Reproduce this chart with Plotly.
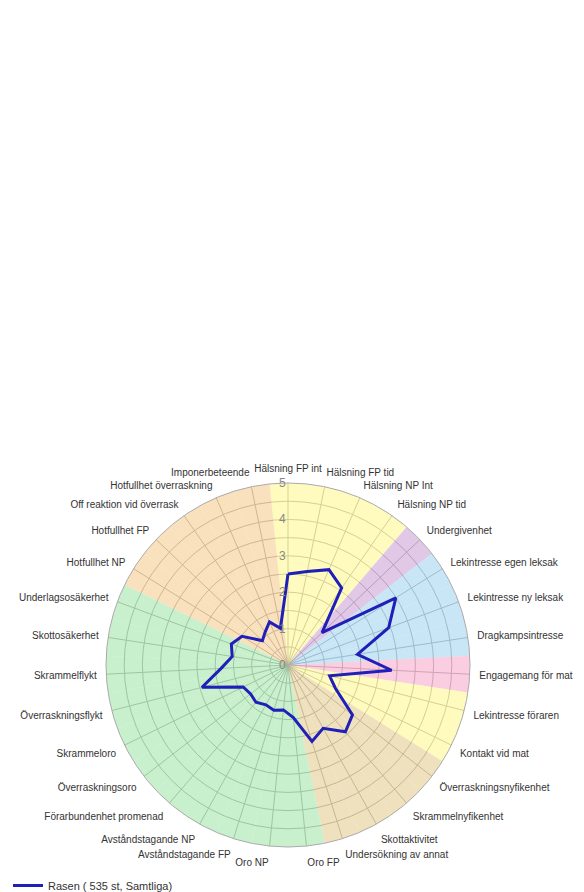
import plotly.graph_objects as go

# Kategorier medurs från toppen
categories = ['Hälsning FP int', 'Hälsning FP tid', 'Hälsning NP Int', 'Hälsning NP tid',
              'Undergivenhet', 'Lekintresse egen leksak', 'Lekintresse ny leksak',
              'Dragkampsintresse', 'Engagemang för mat', 'Lekintresse föraren',
              'Kontakt vid mat', 'Överraskningsnyfikenhet', 'Skrammelnyfikenhet',
              'Skottaktivitet', 'Undersökning av annat', 'Oro FP', 'Oro NP',
              'Avståndstagande FP', 'Avståndstagande NP', 'Förarbundenhet promenad',
              'Överraskningsoro', 'Skrammeloro', 'Överraskningsflykt', 'Skrammelflykt',
              'Skottosäkerhet', 'Underlagsosäkerhet', 'Hotfullhet NP', 'Hotfullhet FP',
              'Off reaktion vid överrask', 'Hotfullhet överraskning', 'Imponerbeteende']

rasen = [2.5, 2.62, 2.85, 2.58, 1.29, 3.49, 2.95, 1.93, 2.85, 1.18,
         1.45, 2.24, 2.42, 1.99, 2.2, 1.45, 1.24, 1.3, 1.25, 1.35,
         1.3, 1.37, 2.44, 1.84, 1.55, 1.66, 1.49, 0.97, 1.1, 1.29, 1.03]

# Bakgrundsgrupp per kategori
groups = ['halsning'] * 4 + ['undergivenhet'] + ['lek'] * 3 + ['mat'] + ['kontakt'] * 2 \
         + ['nyfikenhet'] * 4 + ['oro'] * 11 + ['hot'] * 5

group_colors = {
    'halsning': 'rgba(255,247,147,0.6)',
    'undergivenhet': 'rgba(205,163,213,0.6)',
    'lek': 'rgba(163,213,238,0.6)',
    'mat': 'rgba(247,172,205,0.6)',
    'kontakt': 'rgba(255,247,147,0.6)',
    'nyfikenhet': 'rgba(230,205,147,0.6)',
    'oro': 'rgba(163,230,172,0.6)',
    'hot': 'rgba(247,205,147,0.6)',
}

radial_vals = [i * 0.5 for i in range(11)]
radial_text = [str(int(v)) if v == int(v) else '' for v in radial_vals]

fig = go.Figure()

fig.add_trace(go.Barpolar(
    r=[5] * len(categories), theta=categories, width=[1] * len(categories),
    marker=dict(color=[group_colors[g] for g in groups], line=dict(width=0)),
    showlegend=False, hoverinfo='skip'))

fig.add_trace(go.Scatterpolar(
    r=rasen + rasen[:1], theta=categories + categories[:1], mode='lines',
    line=dict(color='#2020B8', width=3), name='Rasen ( 535 st, Samtliga)'))

# sidan har 8px body-marginal -> figuren förskjuts 8px
W, H = 576, 892
fig.update_layout(
    width=W, height=H,
    margin=dict(l=0, r=0, t=0, b=0),
    paper_bgcolor='white',
    font=dict(family='Liberation Sans, Arial', color='#333'),
    polar=dict(
        domain=dict(x=[98 / W, 462 / W], y=[53 / H, 417 / H]),
        bgcolor='white',
        bargap=0,
        angularaxis=dict(direction='clockwise', rotation=90,
                         ticks='outside', ticklen=7, tickcolor='rgba(0,0,0,0)',
                         tickfont=dict(size=10, color='#333'),
                         gridcolor='#959595', gridwidth=1,
                         linecolor='#aaaaaa', linewidth=1),
        radialaxis=dict(range=[0, 5], angle=90, tickangle=90, side='counterclockwise',
                        tickvals=radial_vals, ticktext=radial_text, ticks='',
                        tickfont=dict(size=12, color='#888'),
                        gridcolor='#959595', gridwidth=1, showline=False),
    ),
    showlegend=True,
    legend=dict(x=0.0, y=0.0, xanchor='left', yanchor='bottom',
                font=dict(size=11, color='#333'), bgcolor='rgba(0,0,0,0)'),
)

fig.write_html("out.html")
